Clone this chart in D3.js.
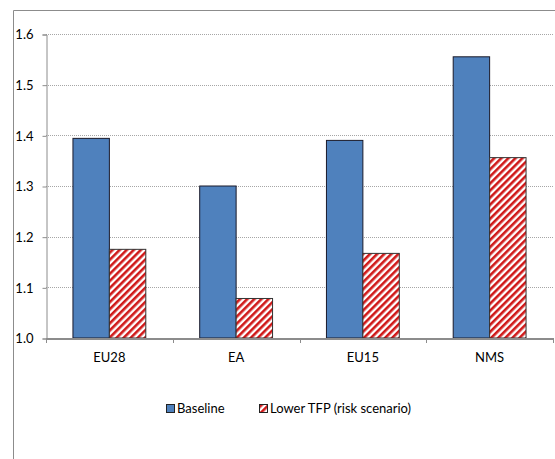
<!DOCTYPE html>
<html><head><meta charset="utf-8">
<script src="https://cdn.jsdelivr.net/npm/d3@7"></script>
<style>body{margin:0;background:#fff}svg{display:block}text{font-family:Lato,"Open Sans",sans-serif;fill:#000}</style>
</head><body>
<script>
const categories = ["EU28","EA","EU15","NMS"];
const seriesNames = ["Baseline","Lower TFP (risk scenario)"];
const baseline = [1.394, 1.300, 1.390, 1.555];
const lowerTFP = [1.175, 1.078, 1.167, 1.356];
const yTicks = [1.0,1.1,1.2,1.3,1.4,1.5,1.6];

const W=555,H=459;
const svg=d3.select("body").append("svg").attr("width",W).attr("height",H);
const defs=svg.append("defs");
const pat=defs.append("pattern").attr("id","hatch").attr("patternUnits","userSpaceOnUse")
  .attr("width",5).attr("height",5).attr("patternTransform","rotate(45)");
pat.append("rect").attr("width",5).attr("height",5).attr("fill","#fff");
pat.append("rect").attr("width",2.6).attr("height",5).attr("fill","#d01818");

// outer frame
svg.append("path").attr("d","M13.5,"+H+"V10.5H"+W).attr("fill","none").attr("stroke","#8c8c8c").attr("stroke-width",1);

const m={l:46,r:553,t:34,b:338};
const x=d3.scaleBand().domain(categories).range([m.l,m.r]);
const xs=d3.scaleBand().domain([0,1]).range([0,x.bandwidth()]).paddingOuter(0.74).paddingInner(0);
const y=d3.scaleLinear().domain([1.0,1.6]).range([m.b,m.t]);

// grid
svg.append("g").selectAll("line").data(yTicks.filter(d=>d>1.0)).join("line")
  .attr("x1",m.l).attr("x2",m.r).attr("y1",d=>Math.round(y(d))+0.5).attr("y2",d=>Math.round(y(d))+0.5)
  .attr("stroke","#a6a6a6").attr("stroke-dasharray","1,1");

// y axis
const ya=svg.append("g").attr("transform","translate("+(m.l+0.5)+",0.5)")
  .call(d3.axisLeft(y).tickValues(yTicks).tickFormat(d3.format(".1f")).tickSize(4).tickPadding(9));
ya.select(".domain").attr("stroke","#8c8c8c");
ya.selectAll(".tick line").attr("stroke","#8c8c8c");
ya.selectAll("text").style("font-size","13px").attr("fill","#000");

// bars
const g=svg.append("g");
categories.forEach((c,i)=>{
  [baseline[i],lowerTFP[i]].forEach((v,j)=>{
    g.append("rect").attr("x",x(c)+xs(j)).attr("width",xs.bandwidth())
     .attr("y",y(v)).attr("height",y(1.0)-y(v))
     .attr("fill",j===0?"#4f81bd":"url(#hatch)")
     .attr("stroke",j===0?"#1a1a2a":"#333").attr("stroke-width",1);
  });
});

// x axis
const xa=svg.append("g").attr("transform","translate(0,"+(m.b+0.5)+")")
  .call(d3.axisBottom(x).tickSize(0).tickPadding(14));
xa.select(".domain").attr("stroke","#8c8c8c").attr("stroke-width",2);
xa.selectAll("text").style("font-size","13px").attr("fill","#000");
svg.append("g").selectAll("line").data(d3.range(categories.length+1)).join("line")
  .attr("x1",i=>Math.round(m.l+i*x.step())+0.5).attr("x2",i=>Math.round(m.l+i*x.step())+0.5)
  .attr("y1",m.b).attr("y2",m.b+5).attr("stroke","#8c8c8c");

// legend
const leg=svg.append("g");
const items=[{n:seriesNames[0],x:166,f:"#4f81bd"},{n:seriesNames[1],x:259,f:"url(#hatch)"}];
items.forEach(it=>{
  leg.append("rect").attr("x",it.x+0.5).attr("y",404.5).attr("width",8).attr("height",8)
    .attr("fill",it.f).attr("stroke","#222");
  leg.append("text").attr("x",it.x+11).attr("y",413).style("font-size","13px").text(it.n);
});
</script>
</body></html>
